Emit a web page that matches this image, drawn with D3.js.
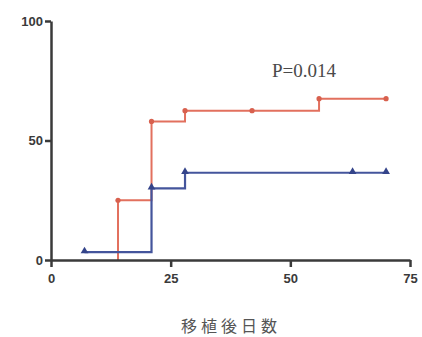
<!DOCTYPE html>
<html>
<head>
<meta charset="utf-8">
<script src="https://cdn.jsdelivr.net/npm/d3@7"></script>
<style>
  body { margin: 0; background: #fff; }
  .axis text { font-family: "Liberation Sans", Arial, sans-serif; font-weight: bold; font-size: 13px; fill: #3a3a3a; }
  .axis path, .axis line { stroke: #3a3a3a; stroke-width: 2.5px; }
</style>
</head>
<body>
<script>
const w = 422
const h = 337
const m = {top: 21, right: 12, bottom: 77, left: 51}

// step points: [day, percent]
const redSteps = [[14, 0], [14, 25], [21, 25], [21, 58], [28, 58], [28, 62.5], [56, 62.5], [56, 67.5], [70, 67.5]]
const redMarks = [[14, 25], [21, 58], [28, 62.5], [42, 62.5], [56, 67.5], [70, 67.5]]
const blueSteps = [[7, 3.3], [21, 3.3], [21, 30], [28, 30], [28, 36.5], [70, 36.5]]
const blueMarks = [[7, 3.3], [21, 30], [28, 36.5], [63, 36.5], [70, 36.5]]
const xTicks = [0, 25, 50, 75]
const yTicks = [0, 50, 100]

const svg = d3.select('body')
              .append('svg')
              .attr('width', w)
              .attr('height', h)

const xScale = d3.scaleLinear()
                 .domain([0, 75])
                 .range([m.left, w - m.right])

const yScale = d3.scaleLinear()
                 .domain([0, 100])
                 .range([h - m.bottom, m.top])

const line = d3.line()
               .x(d => xScale(d[0]))
               .y(d => yScale(d[1]))

svg.append('path')
   .datum(redSteps)
   .attr('d', line)
   .attr('fill', 'none')
   .attr('stroke', '#e2705e')
   .attr('stroke-width', 2)

svg.append('path')
   .datum(blueSteps)
   .attr('d', line)
   .attr('fill', 'none')
   .attr('stroke', '#44559c')
   .attr('stroke-width', 2.2)

svg.selectAll('.red-dot')
   .data(redMarks)
   .enter()
   .append('circle')
   .attr('class', 'red-dot')
   .attr('cx', d => xScale(d[0]))
   .attr('cy', d => yScale(d[1]))
   .attr('r', 2.6)
   .attr('fill', '#d8604e')

const tri = d3.symbol().type(d3.symbolTriangle).size(26)
svg.selectAll('.blue-tri')
   .data(blueMarks)
   .enter()
   .append('path')
   .attr('class', 'blue-tri')
   .attr('transform', d => 'translate(' + xScale(d[0]) + ',' + (yScale(d[1]) - 1) + ')')
   .attr('d', tri)
   .attr('fill', '#34448a')

svg.append('g')
   .attr('class', 'axis')
   .attr('transform', 'translate(0,' + (h - m.bottom) + ')')
   .call(d3.axisBottom(xScale).tickValues(xTicks).tickSize(7).tickSizeOuter(0).tickPadding(7))

svg.append('g')
   .attr('class', 'axis')
   .attr('transform', 'translate(' + m.left + ',0)')
   .call(d3.axisLeft(yScale).tickValues(yTicks).tickSize(6).tickSizeOuter(0).tickPadding(2))

svg.append('text')
   .attr('x', 272)
   .attr('y', 77)
   .attr('font-family', '"Liberation Serif", "DejaVu Serif", serif')
   .attr('font-size', 19)
   .attr('fill', '#4a4a4a')
   .text('P=0.014')

svg.append('text')
   .attr('x', 231)
   .attr('y', 332)
   .attr('text-anchor', 'middle')
   .attr('font-family', '"Noto Sans CJK JP", sans-serif')
   .attr('font-size', 16)
   .attr('letter-spacing', 4)
   .attr('fill', '#555')
   .text('移植後日数')
</script>
</body>
</html>
